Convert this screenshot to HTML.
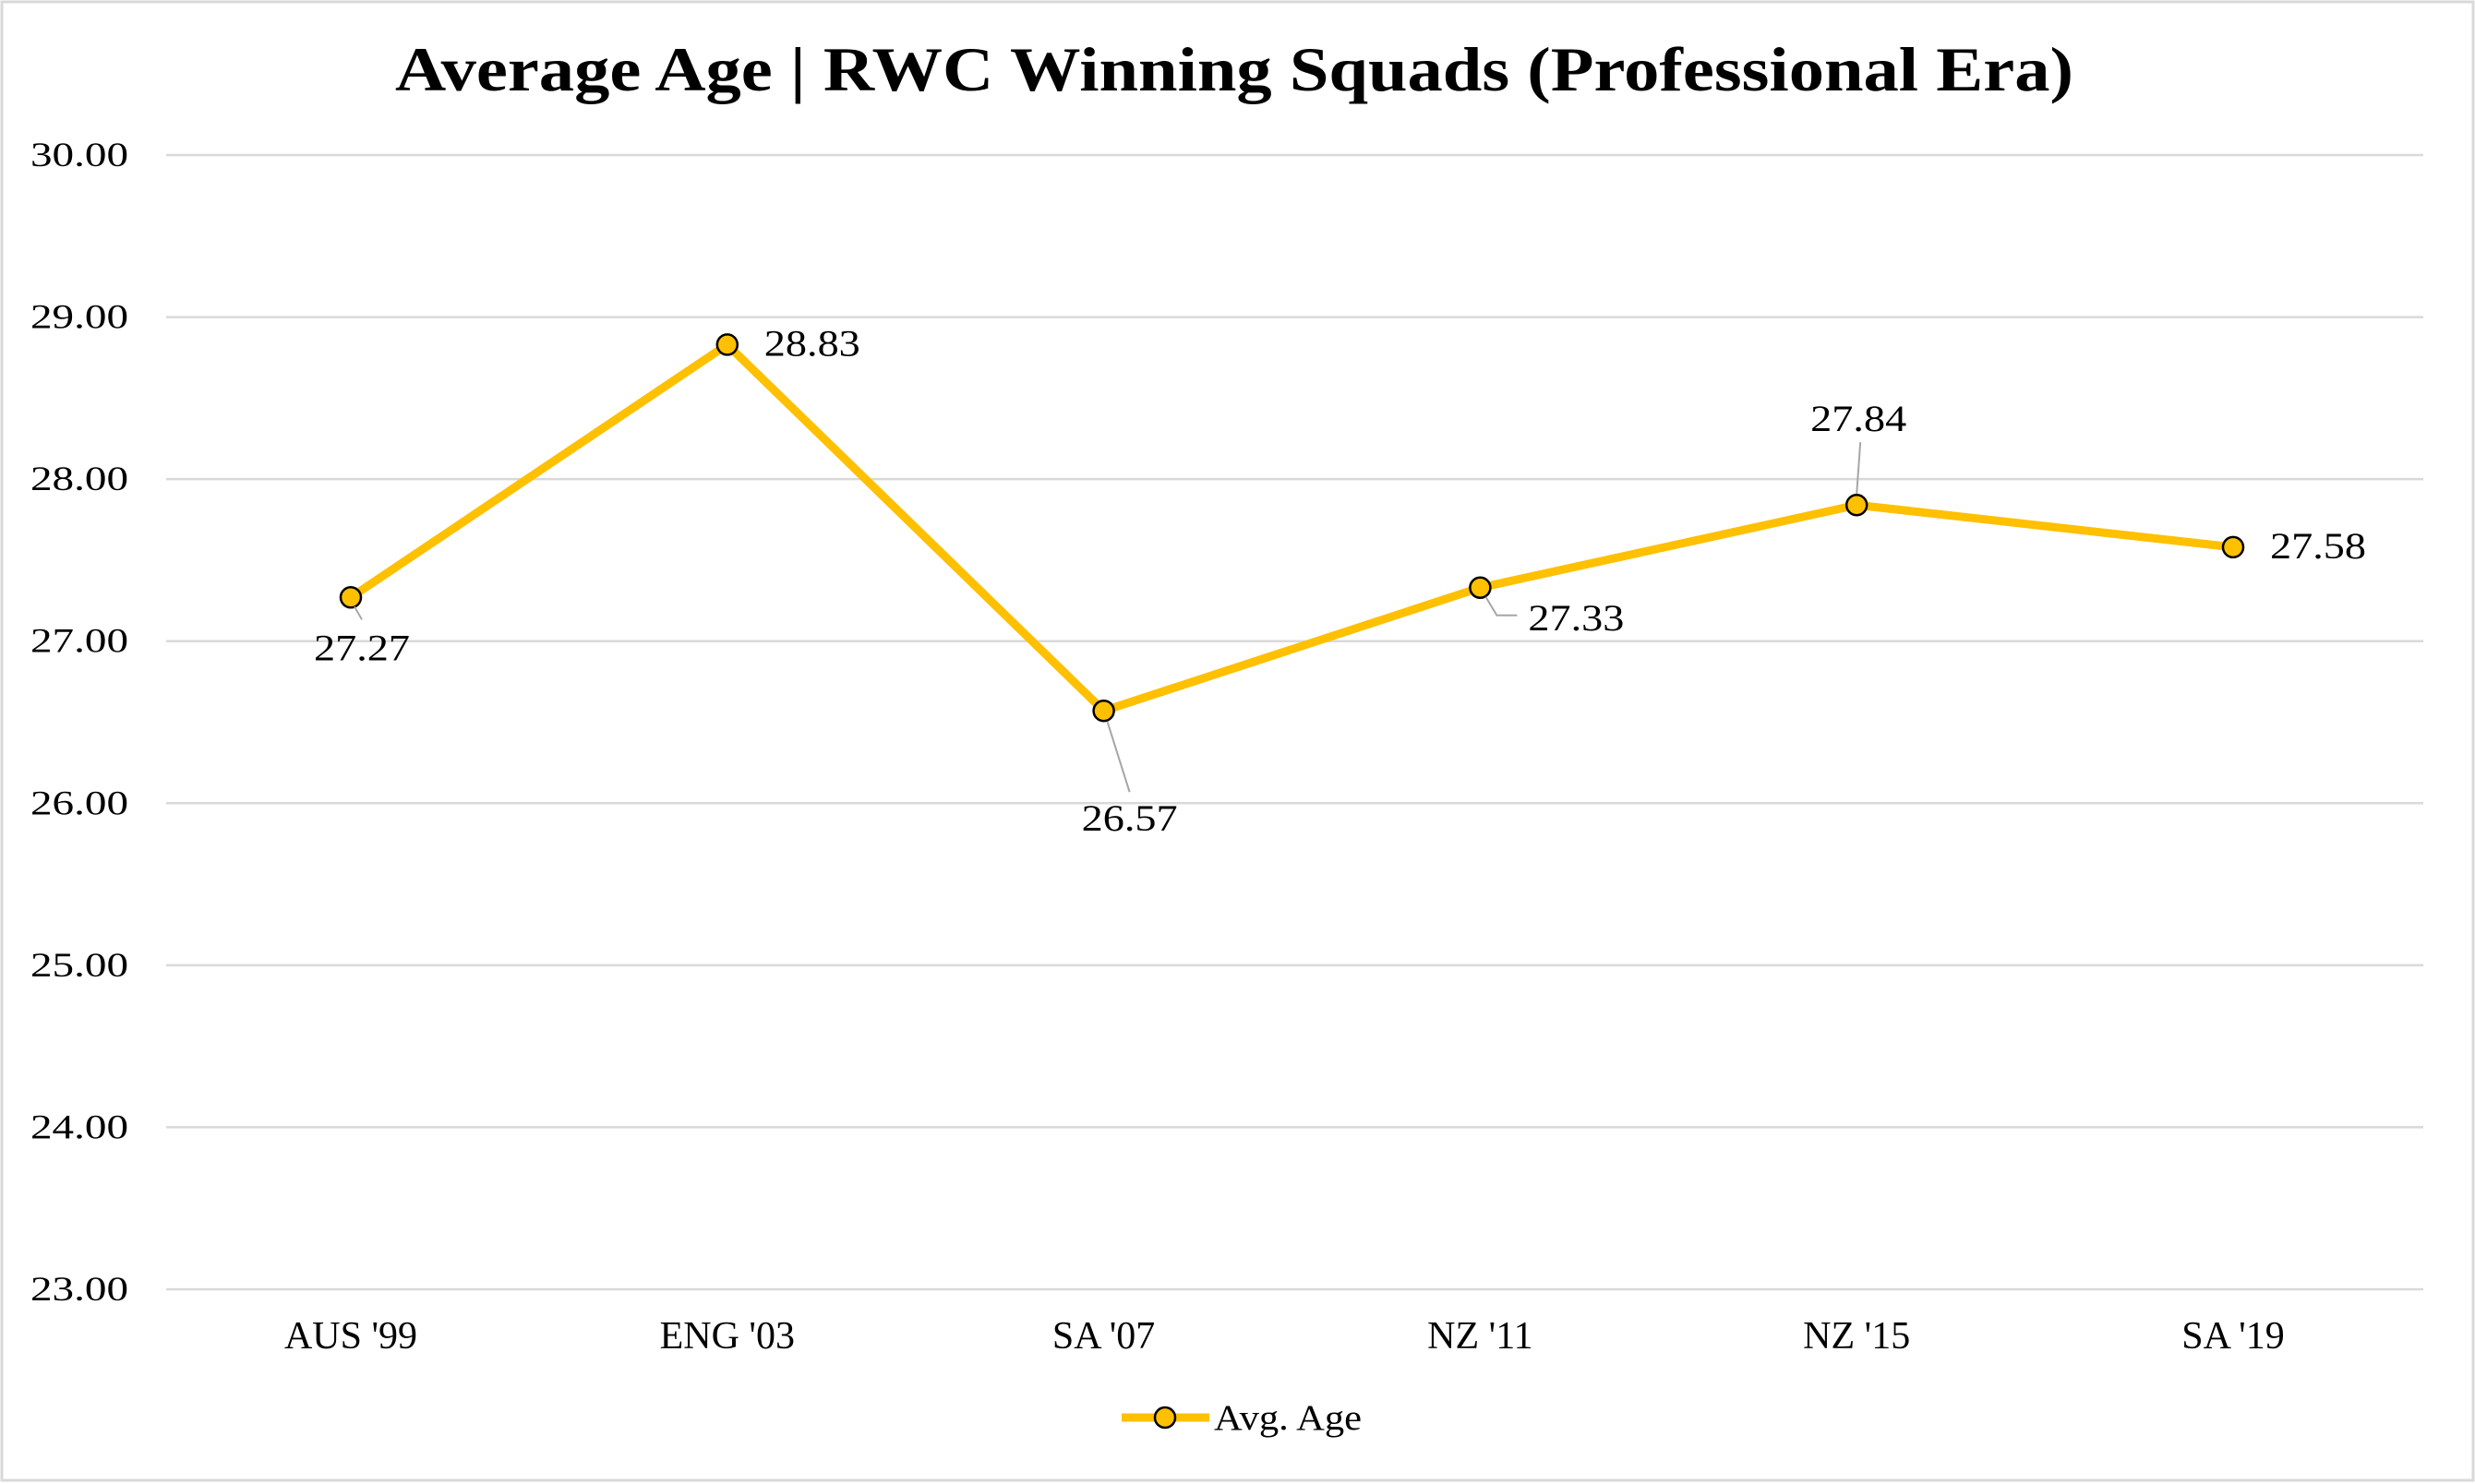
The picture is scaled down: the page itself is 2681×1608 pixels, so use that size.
<!DOCTYPE html>
<html><head><meta charset="utf-8"><style>
html,body{margin:0;padding:0;background:#fff}
svg{display:block}
text{font-family:"Liberation Serif","DejaVu Serif",serif;fill:#000}
</style></head><body>
<svg id="chart" width="2681" height="1608" viewBox="0 0 2681 1608">
<rect x="2" y="2" width="2677" height="1602" fill="#fff" stroke="#d9d9d9" stroke-width="3"/>
<text x="1337" y="98" text-anchor="middle" font-size="68" font-weight="bold" textLength="1818" lengthAdjust="spacingAndGlyphs">Average Age | RWC Winning Squads (Professional Era)</text>
<g id="grid"></g><g id="yticks"></g><g id="xticks"></g><g id="series"></g><g id="labels"></g>
<g>
<line x1="1215" y1="1536" x2="1310" y2="1536" stroke="#FFC000" stroke-width="9"/>
<circle cx="1262" cy="1536" r="11" fill="#FFC000" stroke="#000" stroke-width="2.5"/>
<text x="1315" y="1549" font-size="39" textLength="160" lengthAdjust="spacingAndGlyphs">Avg. Age</text>
</g>
</svg>
<script>
const categories=["AUS '99","ENG '03","SA '07","NZ '11","NZ '15","SA '19"];
const values=[27.27,28.83,26.57,27.33,27.84,27.58];
const yTicks=[23,24,25,26,27,28,29,30];
const labelPos=["below","right","belowLine","rightLine","aboveLine","right"];
const NS="http://www.w3.org/2000/svg";
const plotL=180,plotR=2625,yTop=168,yBot=1397,yMin=23,yMax=30;
const x0=380,x1=2419;
function xs(i){return x0+i*(x1-x0)/(categories.length-1);}
function ys(v){return yBot-(v-yMin)/(yMax-yMin)*(yBot-yTop);}
function mk(tag,attrs,parent,txt){const e=document.createElementNS(NS,tag);for(const k in attrs)e.setAttribute(k,attrs[k]);if(txt!==undefined)e.textContent=txt;document.getElementById(parent).appendChild(e);return e;}
yTicks.forEach(t=>{
 const g=mk('line',{x1:plotL,x2:plotR,y1:ys(t),y2:ys(t),stroke:'#d9d9d9','stroke-width':2.5},'grid');
 
 
 const l=mk('text',{x:33,y:ys(t)+12,'font-size':37,textLength:106,lengthAdjust:'spacingAndGlyphs'},'yticks',t.toFixed(2));
 
 
});
categories.forEach((c,i)=>{
 const l=mk('text',{x:xs(i),y:1461,'font-size':42,'text-anchor':'middle'},'xticks',c);
 
 
});
const pts=values.map((v,i)=>xs(i)+','+ys(v)).join(' ');
const pl=mk('polyline',{points:pts,fill:'none',stroke:'#FFC000','stroke-width':9,'stroke-linejoin':'round'},'series');


values.forEach((v,i)=>{
 const x=xs(i),y=ys(v);
 const c=mk('circle',{cx:x,cy:y,r:11,fill:'#FFC000',stroke:'#000','stroke-width':2.5},'series');
 
 
 let tx,ty,anchor='middle',lead=null;
 const p=labelPos[i];
 if(p==='below'){tx=x+12;ty=y+68;lead=[x+4,y+10,x+12,y+24];}
 else if(p==='right'){tx=x+40;ty=y+12;anchor='start';}
 else if(p==='belowLine'){tx=x+28;ty=y+130;lead=[x+4,y+12,x+28,y+88];}
 else if(p==='rightLine'){tx=x+52;ty=y+46;anchor='start';lead=[x+6,y+10,x+18,y+30,x+40,y+30];}
 else if(p==='aboveLine'){tx=x+2;ty=y-80;lead=[x,y-12,x+4,y-68];}
 if(lead){const pl2=mk('polyline',{points:lead.join(' '),fill:'none',stroke:'#a6a6a6','stroke-width':2},'labels');
  
  }
 const t=mk('text',{x:tx,y:ty,'font-size':40,'text-anchor':anchor,textLength:104,lengthAdjust:'spacingAndGlyphs'},'labels',v.toFixed(2));
 
 
});
</script>
</body></html>
